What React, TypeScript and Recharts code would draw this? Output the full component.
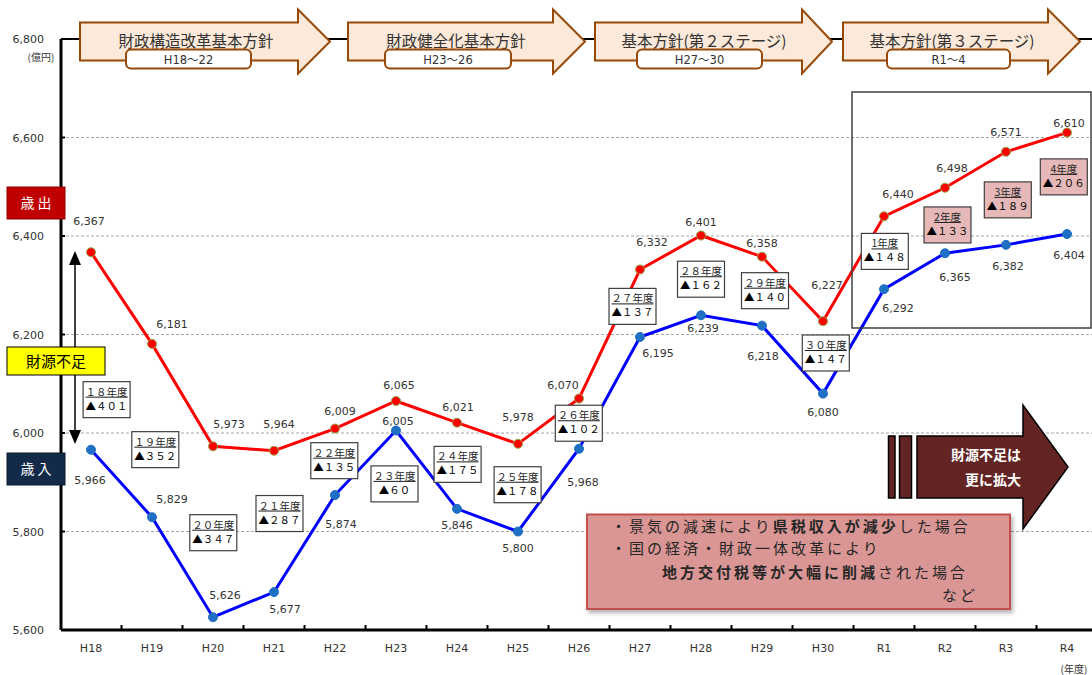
import React from "react";
import { LineChart, Line, XAxis, YAxis, CartesianGrid, LabelList, ReferenceLine } from "recharts";

// 年度
const years = ["H18", "H19", "H20", "H21", "H22", "H23", "H24", "H25", "H26", "H27", "H28", "H29", "H30", "R1", "R2", "R3", "R4"];
// 歳出（億円）
const expenditure = [6367, 6181, 5973, 5964, 6009, 6065, 6021, 5978, 6070, 6332, 6401, 6358, 6227, 6440, 6498, 6571, 6610];
// 歳入（億円）
const revenue = [5966, 5829, 5626, 5677, 5874, 6005, 5846, 5800, 5968, 6195, 6239, 6218, 6080, 6292, 6365, 6382, 6404];
// 財源不足の吹き出し
const gapTitles = ["１８年度", "１９年度", "２０年度", "２１年度", "２２年度", "２３年度", "２４年度", "２５年度", "２６年度", "２７年度", "２８年度", "２９年度", "３０年度", "1年度", "2年度", "3年度", "4年度"];
const gapValues = ["▲４０１", "▲３５２", "▲３４７", "▲２８７", "▲１３５", "▲６０", "▲１７５", "▲１７８", "▲１０２", "▲１３７", "▲１６２", "▲１４０", "▲１４７", "▲１４８", "▲１３３", "▲１８９", "▲２０６"];
const yTicks = [5600, 5800, 6000, 6200, 6400, 6600, 6800];

const data = years.map((year, i) => ({ year, out: expenditure[i], in: revenue[i] }));

// label placement (px, relative to the dot)
const outLabelOff = [[-2, -31], [20, -20], [16, -22], [5, -27], [5, -18], [3, -16], [1, -16], [0, -27], [-16, -14], [12, -27], [0, -14], [0, -14], [4, -36], [14, -22], [7, -20], [0, -20], [2, -10]];
const inLabelOff = [[-1, 30], [20, -18], [12, -22], [11, 17], [6, 29], [2, -10], [0, 16], [0, 16], [4, 33], [18, 16], [2, 13], [1, 30], [0, 18], [14, 19], [10, 24], [2, 21], [2, 21]];
const boxOff = [[15.6, 147.4], [3.3, 105.8], [0.3, 86.4], [5.5, 62.8], [-0.7, 32.1], [-1.5, 82.9], [0.6, 41.7], [-0.4, 40.9], [-0.2, 24.7], [-7.5, 36.9], [0, 43.7], [3, 34], [2.8, 31.8], [0.8, 35.1], [2.5, 37.2], [1.8, 48.1], [-3.2, 44.3]];

const NUM_FONT = "'DejaVu Sans', 'Noto Sans CJK JP', sans-serif";
const JP_FONT = "'Noto Sans CJK JP', sans-serif";

const fmt = (v: number) => v.toLocaleString("en-US");

const OutLabel = (p: any) => {
  const i = p.index;
  const x = p.x ?? p.viewBox?.x;
  const y = p.y ?? p.viewBox?.y;
  const [dx, dy] = outLabelOff[i];
  const [bx, by] = boxOff[i];
  const cx = x + bx;
  const cy = y + by;
  const pink = i >= 14;
  return (
    <g>
      <text x={x + dx} y={y + dy + 4} textAnchor="middle" fontSize={11} fill="#333" fontFamily={NUM_FONT}>
        {fmt(p.value)}
      </text>
      <rect x={cx - 23.5} y={cy - 18} width={47} height={36} fill={pink ? "#E6B9B8" : "#fff"} stroke="#3F3F3F" strokeWidth={1.2} />
      <text x={cx} y={cy - 4} textAnchor="middle" fontSize={10.5} fill="#262626" fontFamily={JP_FONT} style={{ textDecoration: "underline" }}>
        {gapTitles[i]}
      </text>
      <text x={cx} y={cy + 10} textAnchor="middle" fontSize={10.5} fill="#000" fontFamily={JP_FONT}>
        {gapValues[i]}
      </text>
    </g>
  );
};

const InLabel = (p: any) => {
  const i = p.index;
  const x = p.x ?? p.viewBox?.x;
  const y = p.y ?? p.viewBox?.y;
  const [dx, dy] = inLabelOff[i];
  return (
    <text x={x + dx} y={y + dy + 4} textAnchor="middle" fontSize={11} fill="#333" fontFamily={NUM_FONT}>
      {fmt(p.value)}
    </text>
  );
};

const XTick = (p: any) => {
  const { x, payload } = p;
  return (
    <g>
      <line x1={x + 30.5} x2={x + 30.5} y1={625} y2={630} stroke="#000" strokeWidth={2} />
      <text x={x} y={652} textAnchor="middle" fontSize={11} fill="#333" fontFamily={NUM_FONT}>
        {payload.value}
      </text>
    </g>
  );
};

const YTick = (p: any) => {
  const { y, payload } = p;
  return (
    <g>
      <line x1={61} x2={65} y1={y} y2={y} stroke="#000" strokeWidth={2} />
      <text x={44} y={y + 4} textAnchor="end" fontSize={11} fill="#333" fontFamily={NUM_FONT}>
        {fmt(payload.value)}
      </text>
    </g>
  );
};

const topArrows = [
  { x0: 80, xh: 298, xt: 330, title: "財政構造改革基本方針", tx: 196, sub: "H18～22", s0: 126, s1: 251 },
  { x0: 348, xh: 553, xt: 585, title: "財政健全化基本方針", tx: 456, sub: "H23～26", s0: 385, s1: 511 },
  { x0: 595, xh: 802, xt: 832, title: "基本方針(第２ステージ)", tx: 704, sub: "H27～30", s0: 637, s1: 762 },
  { x0: 843, xh: 1048, xt: 1080, title: "基本方針(第３ステージ)", tx: 952, sub: "R1～4", s0: 887, s1: 1010 },
];

const Overlay = () => {
  const cy = 41.5;
  return (
    <svg width={1092} height={675} style={{ position: "absolute", left: 0, top: 0, pointerEvents: "none" }}>
      <defs>
        <filter id="sh" x="-5%" y="-10%" width="115%" height="130%">
          <feDropShadow dx="2" dy="3" stdDeviation="2" floodColor="#000" floodOpacity="0.3" />
        </filter>
      </defs>
      {topArrows.map((a) => (
        <g key={a.sub}>
          <path
            d={`M${a.x0},${cy - 19} L${a.xh},${cy - 19} L${a.xh},${cy - 32} L${a.xt},${cy} L${a.xh},${cy + 32} L${a.xh},${cy + 19} L${a.x0},${cy + 19} Z`}
            fill="#FDE9D9"
            stroke="#984807"
            strokeWidth={2}
          />
          <text x={a.tx} y={cy + 5.5} textAnchor="middle" fontSize={15.5} fill="#333" fontFamily={JP_FONT}>
            {a.title}
          </text>
          <rect x={a.s0} y={49.5} width={a.s1 - a.s0} height={19} rx={5} fill="#fff" stroke="#984807" strokeWidth={2} />
          <text x={(a.s0 + a.s1) / 2} y={63.5} textAnchor="middle" fontSize={11.5} fill="#333" fontFamily={NUM_FONT}>
            {a.sub}
          </text>
        </g>
      ))}

      <text x={41} y={61} textAnchor="middle" fontSize={10} fill="#333" fontFamily={JP_FONT}>(億円)</text>
      <text x={1074} y={673} textAnchor="middle" fontSize={10} fill="#333" fontFamily={JP_FONT}>(年度)</text>

      {/* 歳出・歳入 */}
      <rect x={7} y={187} width={58} height={32} fill="#C00000" stroke="#8B0000" strokeWidth={1} />
      <text x={36} y={208} textAnchor="middle" fontSize={14} fill="#fff" fontFamily={JP_FONT}>歳 出</text>
      <rect x={7} y={453} width={58} height={32} fill="#132B48" stroke="#0B1A2C" strokeWidth={1} />
      <text x={36} y={474} textAnchor="middle" fontSize={14} fill="#fff" fontFamily={JP_FONT}>歳 入</text>

      {/* 財源不足 arrow */}
      <line x1={75} x2={75} y1={262} y2={434} stroke="#000" strokeWidth={1.5} />
      <path d="M75,251 L69,265 L81,265 Z" fill="#000" />
      <path d="M75,444 L69,430 L81,430 Z" fill="#000" />
      <rect x={7} y={347} width={98} height={28} fill="#FFFF00" stroke="#000" strokeWidth={1} />
      <text x={56} y={366.5} textAnchor="middle" fontSize={15} fill="#000" fontFamily={JP_FONT}>財源不足</text>

      {/* R1-R4 frame */}
      <rect x={852} y={92} width={239} height={236} fill="none" stroke="#404040" strokeWidth={1.5} />

      {/* 拡大 arrow */}
      <rect x={888.5} y={436} width={6.5} height={62} fill="#632523" stroke="#000" strokeWidth={1.5} />
      <rect x={899.5} y={436} width={12} height={62} fill="#632523" stroke="#000" strokeWidth={1.5} />
      <path d="M917,436 L1023,436 L1023,405 L1068,467 L1023,529 L1023,498 L917,498 Z" fill="#632523" stroke="#000" strokeWidth={1.5} />
      <text x={1021} y={460} textAnchor="end" fontSize={14} fontWeight="bold" fill="#fff" fontFamily={JP_FONT}>財源不足は</text>
      <text x={1021} y={485} textAnchor="end" fontSize={14} fontWeight="bold" fill="#fff" fontFamily={JP_FONT}>更に拡大</text>

      {/* 注記 */}
      <rect x={587} y={514.5} width={423} height={94.5} fill="#DA9694" stroke="#C0504D" strokeWidth={2} filter="url(#sh)" />
      <g fontSize={15} letterSpacing={3} fill="#262626" fontFamily={JP_FONT}>
        <text x={611} y={531.5}>
          ・景気の減速により<tspan fontWeight="bold">県税収入が減少</tspan>した場合
        </text>
        <text x={611} y={554}>・国の経済・財政一体改革により</text>
        <text x={662} y={577.5}>
          <tspan fontWeight="bold">地方交付税等が大幅に削減</tspan>された場合
        </text>
        <text x={978} y={600.5} textAnchor="end">など</text>
      </g>
    </svg>
  );
};

export default function App() {
  return (
    <div style={{ position: "absolute", left: 0, top: 0, width: 1092, height: 675, overflow: "hidden", background: "#fff" }}>
      <LineChart width={1100} height={675} data={data} margin={{ top: 39, right: 3, left: 0, bottom: 0 }}>
        <CartesianGrid vertical={false} strokeDasharray="3 2" stroke="#A6A6A6" />
        <XAxis
          dataKey="year"
          interval={0}
          height={45}
          padding={{ left: 30, right: 30 }}
          tickLine={false}
          axisLine={{ stroke: "#000", strokeWidth: 3 }}
          tick={<XTick />}
        />
        <YAxis
          width={61}
          domain={[5600, 6800]}
          ticks={yTicks}
          interval={0}
          tickLine={false}
          axisLine={{ stroke: "#000", strokeWidth: 3 }}
          tick={<YTick />}
        />
        <ReferenceLine y={6800} stroke="#000" strokeWidth={2} />
        <Line
          dataKey="in"
          stroke="#0000FF"
          strokeWidth={3}
          dot={{ r: 4.5, fill: "#1F6FC5", stroke: "#1F6FC5", strokeWidth: 1 }}
          isAnimationActive={false}
        >
          <LabelList dataKey="in" content={<InLabel />} />
        </Line>
        <Line
          dataKey="out"
          stroke="#FF0000"
          strokeWidth={3}
          dot={{ r: 4.5, fill: "#FF0000", stroke: "#8EA94B", strokeWidth: 1 }}
          isAnimationActive={false}
        >
          <LabelList dataKey="out" content={<OutLabel />} />
        </Line>
      </LineChart>
      <Overlay />
    </div>
  );
}
